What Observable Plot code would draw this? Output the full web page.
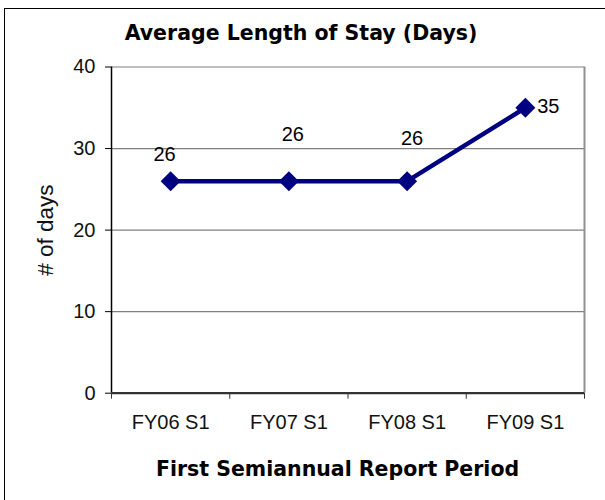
<!DOCTYPE html>
<html>
<head>
<meta charset="utf-8">
<script src="https://cdn.jsdelivr.net/npm/d3@7"></script>
<script src="https://cdn.jsdelivr.net/npm/@observablehq/plot@0.6"></script>
<style>
  html, body { margin: 0; padding: 0; background: #fff; overflow: hidden; }
  #wrap { position: relative; width: 605px; height: 500px; }
  #border { position: absolute; left: 4px; top: 8px; width: 700px; height: 600px;
            border-left: 1.5px solid #000; border-top: 1.5px solid #000; box-sizing: border-box; }
  #chart { position: absolute; left: 0; top: 0; }
</style>
</head>
<body>
<div id="wrap"><div id="border"></div><div id="chart"></div></div>
<script>
const categories = ["FY06 S1", "FY07 S1", "FY08 S1", "FY09 S1"];
const values = [26, 26, 26, 35];
const yTicks = [0, 10, 20, 30, 40];
const gridValues = [10, 20, 30, 40];
const title = "Average Length of Stay (Days)";
const xTitle = "First Semiannual Report Period";
const yTitle = "# of days";

const data = categories.map((c, i) => ({cat: c, idx: i + 0.5, value: values[i]}));
const labelOffsets = [[-6, -27], [4, -47], [5, -43], [23, -1]];

const tickFont = "'Liberation Sans', Arial, Helvetica, sans-serif";
const boldFont = "'DejaVu Sans', sans-serif";

const labelMarks = data.map((d, i) => Plot.text([d], {
  x: "idx", y: "value", text: d => String(d.value),
  dx: labelOffsets[i][0], dy: labelOffsets[i][1],
  fontSize: 20, fill: "#000", lineAnchor: "middle", textAnchor: "middle"
}));

const chart = Plot.plot({
  width: 605,
  height: 500,
  marginLeft: 111,
  marginRight: 21,
  marginTop: 66.5,
  marginBottom: 107.3,
  style: {fontFamily: tickFont, background: "transparent", overflow: "visible"},
  x: {domain: [0, categories.length], axis: null, label: null},
  y: {domain: [0, 40], axis: null, label: null},
  marks: [
    Plot.ruleY(gridValues, {stroke: "#808080", strokeWidth: 1.2}),
    Plot.ruleX([categories.length], {stroke: "#909090", strokeWidth: 2}),
    Plot.ruleX([0], {stroke: "#000", strokeWidth: 1.5}),
    Plot.ruleY([0], {stroke: "#333", strokeWidth: 2.2}),
    Plot.axisY({ticks: yTicks, tickSize: 6, tickPadding: 10, fontSize: 20, stroke: "#000", fill: "#111", label: null}),
    Plot.axisX({ticks: d3.range(0, categories.length + 1), tickFormat: () => "", tickSize: 6, stroke: "#333", label: null}),
    Plot.axisX({ticks: data.map(d => d.idx), tickFormat: v => categories[Math.round(v - 0.5)],
      tickSize: 0, tickPadding: 22, fontSize: 20, fill: "#111", label: null}),
    Plot.line(data, {x: "idx", y: "value", stroke: "#000080", strokeWidth: 4.5}),
    Plot.dot(data, {x: "idx", y: "value", symbol: "diamond2", r: 9, fill: "#000080", stroke: "none"}),
    ...labelMarks,
    Plot.text([title], {text: d => d, frameAnchor: "top", dx: -47, dy: -33.5, lineAnchor: "middle", textAnchor: "middle",
      fontSize: 20.5, fontWeight: "bold", fontFamily: boldFont, fill: "#000"}),
    Plot.text([xTitle], {text: d => d, frameAnchor: "bottom", dx: -10.5, dy: 76, lineAnchor: "middle", textAnchor: "middle",
      fontSize: 20.5, fontWeight: "bold", fontFamily: boldFont, fill: "#000"}),
    Plot.text([yTitle], {text: d => d, frameAnchor: "left", dx: -66, rotate: -90, lineAnchor: "middle", textAnchor: "middle",
      fontSize: 22.5, fill: "#111"})
  ]
});
document.getElementById("chart").appendChild(chart);
</script>
</body>
</html>
